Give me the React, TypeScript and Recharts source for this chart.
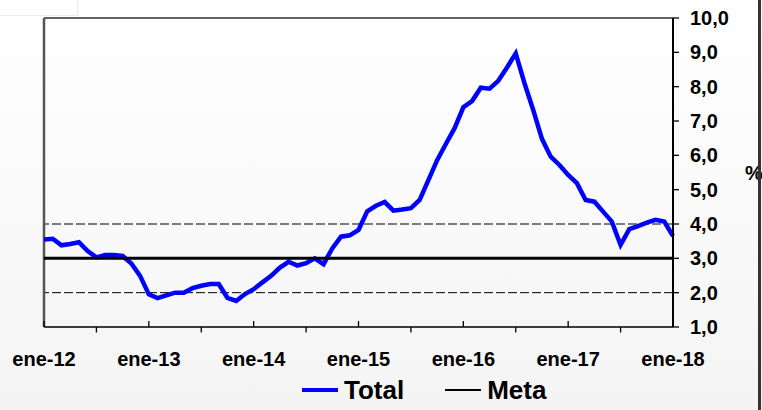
import React from 'react';
import { LineChart, Line, XAxis, YAxis, ReferenceLine, Legend } from 'recharts';

const FONT = '"Liberation Sans", Arial, Helvetica, sans-serif';

const months = [
  'ene-12', 'feb-12', 'mar-12', 'abr-12', 'may-12', 'jun-12', 'jul-12', 'ago-12', 'sep-12', 'oct-12', 'nov-12', 'dic-12',
  'ene-13', 'feb-13', 'mar-13', 'abr-13', 'may-13', 'jun-13', 'jul-13', 'ago-13', 'sep-13', 'oct-13', 'nov-13', 'dic-13',
  'ene-14', 'feb-14', 'mar-14', 'abr-14', 'may-14', 'jun-14', 'jul-14', 'ago-14', 'sep-14', 'oct-14', 'nov-14', 'dic-14',
  'ene-15', 'feb-15', 'mar-15', 'abr-15', 'may-15', 'jun-15', 'jul-15', 'ago-15', 'sep-15', 'oct-15', 'nov-15', 'dic-15',
  'ene-16', 'feb-16', 'mar-16', 'abr-16', 'may-16', 'jun-16', 'jul-16', 'ago-16', 'sep-16', 'oct-16', 'nov-16', 'dic-16',
  'ene-17', 'feb-17', 'mar-17', 'abr-17', 'may-17', 'jun-17', 'jul-17', 'ago-17', 'sep-17', 'oct-17', 'nov-17', 'dic-17',
  'ene-18',
];

const total = [
  3.55, 3.57, 3.38, 3.42, 3.47, 3.21, 3.03, 3.10, 3.10, 3.07, 2.85, 2.49,
  1.95, 1.84, 1.92, 2.00, 2.00, 2.13, 2.20, 2.25, 2.25, 1.85, 1.76, 1.96,
  2.10, 2.30, 2.49, 2.73, 2.90, 2.79, 2.86, 3.00, 2.83, 3.29, 3.63, 3.67,
  3.83, 4.37, 4.53, 4.64, 4.39, 4.42, 4.46, 4.70, 5.28, 5.86, 6.33, 6.79,
  7.40, 7.58, 7.97, 7.94, 8.17, 8.56, 8.97, 8.10, 7.32, 6.48, 5.96, 5.72,
  5.43, 5.19, 4.70, 4.65, 4.36, 4.07, 3.39, 3.85, 3.94, 4.04, 4.12, 4.07,
  3.65,
];

const meta = 3;
const yTicks = [1, 2, 3, 4, 5, 6, 7, 8, 9, 10];
const bandLines = [2, 4];
const legendOrder = ['Total', 'Meta'];

const data = months.map((mes, i) => ({ mes, total: total[i], meta }));

const fmt = (v: number) => v.toFixed(1).replace('.', ',');

const XTick = (props: any) => {
  const { x, y, payload } = props;
  const v = String(payload.value);
  const isYear = v.startsWith('ene');
  return (
    <g>
      <line x1={x} x2={x} y1={y} y2={isYear ? y - 6 : y + 5.5} stroke="#000" strokeWidth={1.3} />
      {isYear && (
        <text x={x} y={y + 39} textAnchor="middle" fontFamily={FONT} fontWeight="bold" fontSize={20} fill="#000">
          {v}
        </text>
      )}
    </g>
  );
};

const renderLegend = (props: any) => {
  const payload = [...(props.payload || [])].sort(
    (a: any, b: any) => legendOrder.indexOf(a.value) - legendOrder.indexOf(b.value)
  );
  return (
    <div style={{ display: 'flex', alignItems: 'center', fontFamily: FONT, fontWeight: 'bold', fontSize: 26, lineHeight: '30px', color: '#000', whiteSpace: 'nowrap' }}>
      {payload.map((e: any, i: number) => (
        <div key={e.value} style={{ display: 'flex', alignItems: 'center', marginLeft: i === 0 ? 0 : 41 }}>
          <span style={{ display: 'inline-block', width: 36, height: e.value === 'Total' ? 4 : 2, background: e.color, marginRight: 6 }} />
          <span>{e.value}</span>
        </div>
      ))}
    </div>
  );
};

export default function App() {
  return (
    <div style={{ position: 'absolute', left: 0, top: 0, width: 762, height: 410, background: 'linear-gradient(#ffffff, #f4f4f4)', overflow: 'hidden' }}>
      <div style={{ position: 'absolute', left: 0, top: 0, width: 77, height: 15, background: '#fff', borderRight: '1px solid #ececec', borderBottom: '1px solid #ececec' }} />
      <LineChart width={762} height={410} data={data} margin={{ top: 18, right: 29, bottom: 43, left: 44 }}>
        <XAxis
          dataKey="mes"
          interval={5}
          tickLine={false}
          tickSize={0}
          tickMargin={0}
          height={40}
          axisLine={{ stroke: '#000', strokeWidth: 1.5 }}
          tick={<XTick />}
        />
        <YAxis
          orientation="right"
          type="number"
          domain={[1, 10]}
          ticks={yTicks}
          allowDataOverflow
          width={60}
          tickSize={6}
          tickMargin={11}
          tickFormatter={fmt}
          axisLine={{ stroke: '#000', strokeWidth: 2 }}
          tickLine={{ stroke: '#000', strokeWidth: 1.3 }}
          tick={{ fontFamily: FONT, fontWeight: 'bold', fontSize: 20, fill: '#000', textAnchor: 'start' }}
          label={(p: any) => {
            const vb = p.viewBox || {};
            return (
              <text x={vb.x + vb.width + 12} y={vb.y + vb.height / 2} dominantBaseline="central" fontFamily={FONT} fontWeight="bold" fontSize={20} fill="#000">
                %
              </text>
            );
          }}
        />
        {bandLines.map((b) => (
          <ReferenceLine key={b} y={b} stroke="#000" strokeWidth={1} strokeDasharray="9 3" />
        ))}
        <ReferenceLine y={10} stroke="#333" strokeWidth={1.5} />
        <ReferenceLine x={months[0]} stroke="#555" strokeWidth={2.5} />
        <Line name="Total" dataKey="total" stroke="#0000ff" strokeWidth={4.5} dot={false} activeDot={false} isAnimationActive={false} />
        <Line name="Meta" dataKey="meta" stroke="#000" strokeWidth={3} dot={false} activeDot={false} isAnimationActive={false} />
        <Legend verticalAlign="middle" align="center" layout="horizontal" wrapperStyle={{ top: 375, left: 302, width: 320 }} content={renderLegend} />
      </LineChart>
      <div style={{ position: 'absolute', left: 758, top: 0, width: 3, height: 410, background: '#333' }} />
    </div>
  );
}
